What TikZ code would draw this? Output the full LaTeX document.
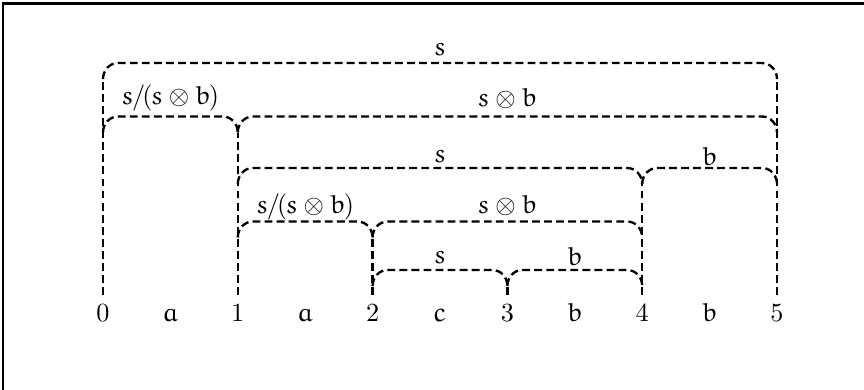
\documentclass[tikz,border=0pt]{standalone}
\DeclareMathAlphabet{\eu}{U}{eur}{m}{n}
\tikzset{
  brk/.style={line width=0.9pt, dash pattern=on 3pt off 1.6pt},
  lbl/.style={anchor=base, inner sep=0pt},
  num/.style={anchor=base},
  frameline/.style={line width=0.8pt},
}
\newcommand\mybracket[3]{%
  \draw[brk] (#1,#3+16) to[out=90,in=180] ({#1+15},#3) -- ({#2-15},#3) to[out=0,in=90] (#2,{#3+16});}
\newcommand\quot{\eu{s}\mkern-1mu/\mkern-2mu(\mkern-1mu\eu{s}\otimes\eu{b}\mkern-1mu)}
\begin{document}
\begin{tikzpicture}[x=0.3817pt,y=-0.3817pt]
\useasboundingbox (0,0) rectangle (864,389);
\clip (0,0) rectangle (864,389);
\draw[frameline] (3,420) -- (3,3.5) -- (900,3.5);
% positions
\def\Xa{103}\def\Xb{237.8}\def\Xc{372.6}\def\Xd{507.4}\def\Xe{642.2}\def\Xf{777}
% number row
\node[num] (n0) at (\Xa,321) {$0$};
\node[num] (n1) at (\Xb,321) {$1$};
\node[num] (n2) at (\Xc,321) {$2$};
\node[num] (n3) at (\Xd,321) {$3$};
\node[num] (n4) at (\Xe,321) {$4$};
\node[num] (n5) at (\Xf,321) {$5$};
\node[num] (w1) at (170.4,321) {$\eu{a}$};
\node[num] (w2) at (305.2,321) {$\eu{a}$};
\node[num] (w3) at (440,321) {$\eu{c}$};
\node[num] (w4) at (574.8,321) {$\eu{b}$};
\node[num] (w5) at (709.6,321) {$\eu{b}$};
% tops of vertical lines
\coordinate (t0) at (\Xa,79);
\coordinate (t1) at (\Xb,132.5);
\coordinate (t2) at (\Xc,237.5);
\coordinate (t3) at (\Xd,286);
\coordinate (t4) at (\Xe,184);
\coordinate (t5) at (\Xf,79);
\draw[brk] (n0.north) -- (t0);
\draw[brk] (n1.north) -- (t1);
\draw[brk] (n2.north) -- (t2);
\draw[brk] (n3.north) -- (t3);
\draw[brk] (n4.north) -- (t4);
\draw[brk] (n5.north) -- (t5);
% brackets
\mybracket{\Xa}{\Xf}{63}
\mybracket{\Xa}{\Xb}{116.5}
\mybracket{\Xb}{\Xf}{116.5}
\mybracket{\Xb}{\Xe}{168}
\mybracket{\Xe}{\Xf}{168}
\mybracket{\Xb}{\Xc}{221.5}
\mybracket{\Xc}{\Xe}{221.5}
\mybracket{\Xc}{\Xd}{270}
\mybracket{\Xd}{\Xe}{270}
% labels
\node[lbl] (k1) at (440,55.5) {$\eu{s}$};
\node[lbl] (k2) at (170.4,104) {$\quot$};
\node[lbl] (k3) at (507.4,106) {$\eu{s}\otimes\eu{b}$};
\node[lbl] (k4) at (440,162) {$\eu{s}$};
\node[lbl] (k5) at (709.6,165) {$\eu{b}$};
\node[lbl] (k6) at (305.2,213.5) {$\quot$};
\node[lbl] (k7) at (507.4,213) {$\eu{s}\otimes\eu{b}$};
\node[lbl] (k8) at (440,263) {$\eu{s}$};
\node[lbl] (k9) at (574.8,265) {$\eu{b}$};
\end{tikzpicture}
\end{document}
